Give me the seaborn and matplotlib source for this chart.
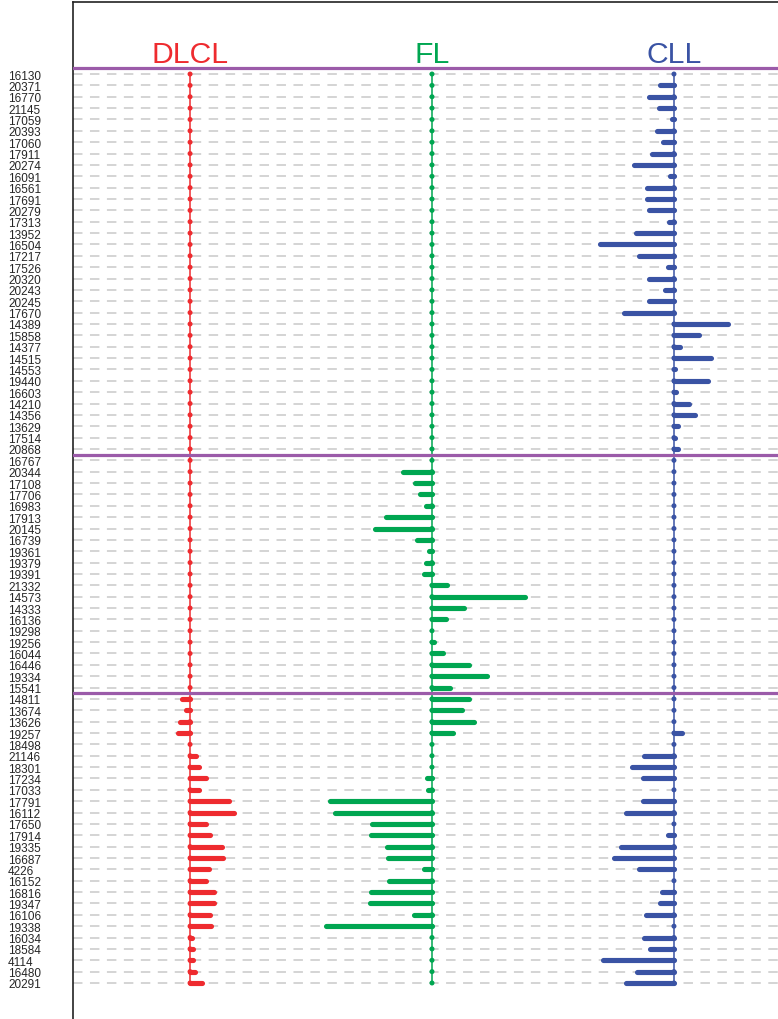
import numpy as np
import pandas as pd
import matplotlib
matplotlib.use("Agg")
import matplotlib.pyplot as plt
import seaborn as sns

# Sample identifiers, top to bottom, in three blocks
samples_cll_block = ["16130", "20371", "16770", "21145", "17059", "20393", "17060", "17911",
                     "20274", "16091", "16561", "17691", "20279", "17313", "13952", "16504",
                     "17217", "17526", "20320", "20243", "20245", "17670", "14389", "15858",
                     "14377", "14515", "14553", "19440", "16603", "14210", "14356", "13629",
                     "17514", "20868"]
samples_fl_block = ["16767", "20344", "17108", "17706", "16983", "17913", "20145", "16739",
                    "19361", "19379", "19391", "21332", "14573", "14333", "16136", "19298",
                    "19256", "16044", "16446", "19334", "15541"]
samples_dlcl_block = ["14811", "13674", "13626", "19257", "18498", "21146", "18301", "17234",
                      "17033", "17791", "16112", "17650", "17914", "19335", "16687", "4226",
                      "16152", "16816", "19347", "16106", "19338", "16034", "18584", "4114",
                      "16480", "20291"]

# Per-sample scores for each lymphoma type
dlcl_values = [0.0] * 34 + [0.0] * 21 + [
    -0.26, -0.15, -0.34, -0.39, 0.0, 0.21, 0.31, 0.54, 0.28, 1.30, 1.46, 0.52, 0.67,
    1.04, 1.08, 0.64, 0.54, 0.78, 0.78, 0.67, 0.69, 0.08, 0.11, 0.11, 0.17, 0.41]
fl_values = [0.0] * 34 + [
    0.0, -0.97, -0.57, -0.39, -0.21, -1.51, -1.90, -0.50, -0.11, -0.21, -0.26, 0.50,
    3.07, 1.06, 0.45, 0.0, 0.06, 0.36, 1.21, 1.83, 0.60] + [
    1.23, 0.99, 1.40, 0.71, 0.0, 0.0, 0.0, -0.15, -0.13, -3.36, -3.22, -1.97, -2.01,
    -1.50, -1.44, -0.28, -1.41, -2.03, -2.06, -0.58, -3.49, 0.0, 0.0, 0.0, 0.0, 0.0]
cll_values = [
    0.0, -0.45, -0.81, -0.48, -0.08, -0.55, -0.35, -0.74, -1.31, -0.12, -0.88, -0.88,
    -0.84, -0.15, -1.27, -2.43, -1.17, -0.21, -0.84, -0.28, -0.84, -1.64, 1.80, 0.84,
    0.21, 1.21, 0.02, 1.14, 0.08, 0.51, 0.71, 0.12, 0.05, 0.12] + [0.0] * 21 + [
    0.0, 0.0, 0.0, 0.25, 0.0, -0.98, -1.40, -1.01, 0.0, -1.01, -1.60, 0.0, -0.21,
    -1.74, -1.97, -1.14, 0.0, -0.41, -0.45, -0.91, 0.0, -0.98, -0.78, -2.36, -1.21, -1.57]

lymphomas = ["DLCL", "FL", "CLL"]
colors = {"DLCL": "#EE2B2F", "FL": "#00A651", "CLL": "#3A53A4"}
sep_color = "#9B5BA9"

samples = samples_cll_block + samples_fl_block + samples_dlcl_block
n = len(samples)
rows = np.arange(n)
panel_gap = 8.0  # horizontal spacing between the three panel baselines

df = pd.DataFrame({
    "sample": samples * 3,
    "row": np.tile(rows, 3),
    "lymphoma": np.repeat(lymphomas, n),
    "value": dlcl_values + fl_values + cll_values,
})
df["base"] = df["lymphoma"].map({k: i * panel_gap for i, k in enumerate(lymphomas)})
df["tip"] = df["base"] + df["value"]

sns.set_style("white")
plt.rcParams["font.family"] = ["Liberation Sans", "DejaVu Sans"]

fig = plt.figure(figsize=(7.78, 10.20), dpi=100)
ax = fig.add_axes([73 / 778, 0.0, 705 / 778, 1017 / 1020])

# dashed row guides
ax.set_yticks(rows)
ax.set_yticklabels(samples, fontsize=8.5, ha="left")
ax.tick_params(axis="y", length=0, pad=46.8)
ax.tick_params(axis="x", length=0, labelbottom=False)
ax.yaxis.grid(True, color="#c9c9c9", linewidth=1.1, linestyle=(0, (6.2, 4.9)))
ax.xaxis.grid(False)
ax.set_axisbelow(True)

for name in lymphomas:
    sub = df[df["lymphoma"] == name]
    base = sub["base"].iloc[0]
    c = colors[name]
    ax.vlines(base, 0, n - 1, color=c, linewidth=1.1, zorder=3)
    nz = sub[sub["value"] != 0]
    ax.hlines(nz["row"], nz["base"], nz["tip"], color=c, linewidth=3.7,
              capstyle="round", zorder=4)
    ax.text(base, -1.05, name, color=c, fontsize=21.7, ha="center", va="baseline")

sns.scatterplot(data=df, x="base", y="row", hue="lymphoma", palette=colors,
                s=13, edgecolor="none", legend=False, zorder=5, ax=ax)

for yb in (-0.5, len(samples_cll_block) - 0.5,
           len(samples_cll_block) + len(samples_fl_block) - 0.5):
    ax.axhline(yb, color=sep_color, linewidth=2.3, zorder=6)

ax.set_xlim(-3.87, 19.44)
ax.set_ylim(n - 1 + 3.17, -6.34)
ax.set_xlabel("")
ax.set_ylabel("")

for side in ("right", "bottom"):
    ax.spines[side].set_visible(False)
for side in ("left", "top"):
    ax.spines[side].set_color("#222222")
    ax.spines[side].set_linewidth(1.2)

fig.savefig("out.png", dpi=100)
